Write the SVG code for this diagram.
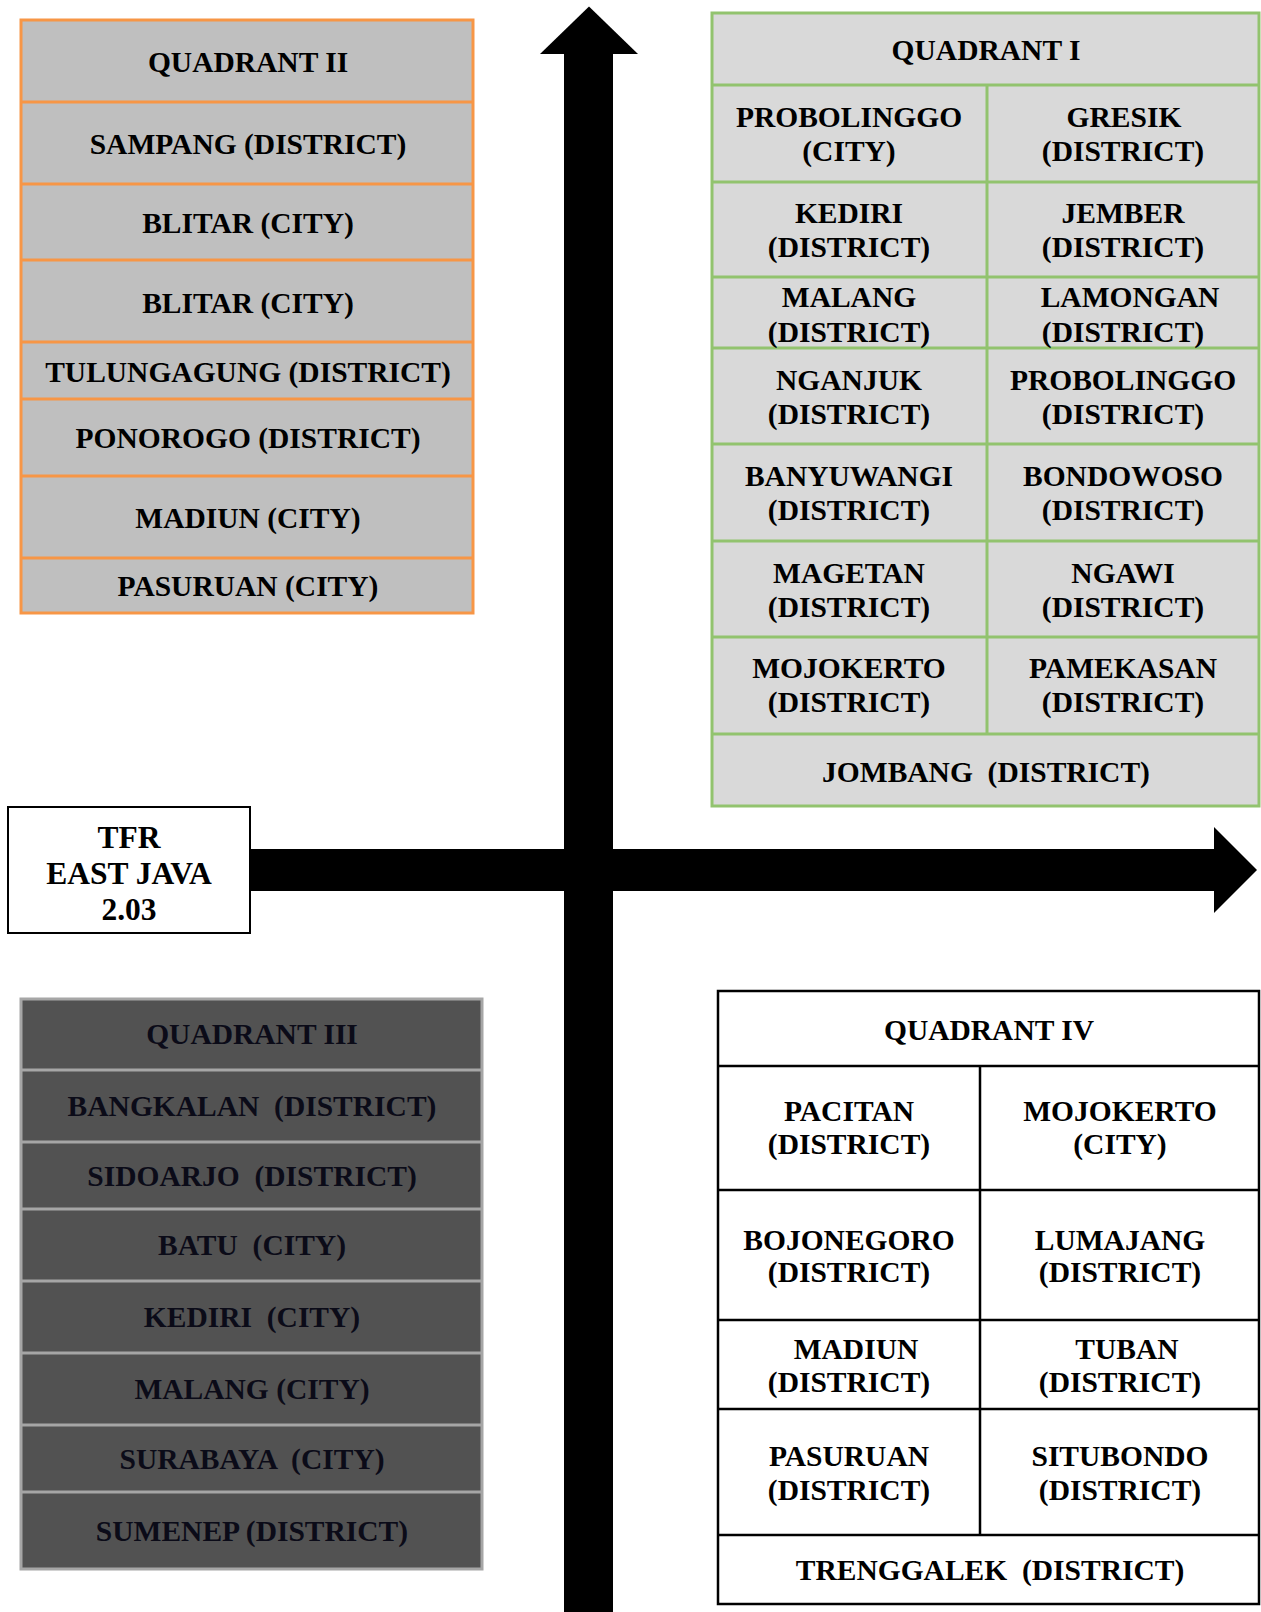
<svg xmlns="http://www.w3.org/2000/svg" width="1261" height="1612" viewBox="0 0 1261 1612">
<style>
text{font-family:"Liberation Serif","Times New Roman",serif;font-weight:bold;font-size:29.5px;text-anchor:middle;fill:#000}
.q3 text{fill:#0b0b18}
.tfr text{font-size:31.5px}
.sepO{stroke:#F79646;stroke-width:3}
.sepG{stroke:#92C36E;stroke-width:3}
.sepS{stroke:#A6A6A6;stroke-width:3}
.sepK{stroke:#000;stroke-width:2.5}
</style>
<rect width="1261" height="1612" fill="#fff"/>
<g id="connectors">
<rect x="564" y="52" width="49" height="1560" fill="#000"/>
<polygon points="540,54 638,54 589,6.5" fill="#000"/>
<rect x="250" y="849" width="966" height="42" fill="#000"/>
<polygon points="1214,827 1214,913 1257,870" fill="#000"/>
</g>
<g id="quadrant2">
<rect x="21" y="20" width="452" height="593" fill="#BFBFBF" stroke="#F79646" stroke-width="3"/>
<g class="sepO">
<line x1="21" y1="102" x2="473" y2="102"/>
<line x1="21" y1="184" x2="473" y2="184"/>
<line x1="21" y1="260" x2="473" y2="260"/>
<line x1="21" y1="342" x2="473" y2="342"/>
<line x1="21" y1="399" x2="473" y2="399"/>
<line x1="21" y1="476" x2="473" y2="476"/>
<line x1="21" y1="558" x2="473" y2="558"/>
</g>
<text x="248" y="72">QUADRANT II</text>
<text x="248" y="154">SAMPANG (DISTRICT)</text>
<text x="248" y="233">BLITAR (CITY)</text>
<text x="248" y="313">BLITAR (CITY)</text>
<text x="248" y="382">TULUNGAGUNG (DISTRICT)</text>
<text x="248" y="448">PONOROGO (DISTRICT)</text>
<text x="248" y="528">MADIUN (CITY)</text>
<text x="248" y="596">PASURUAN (CITY)</text>
</g>
<g id="quadrant1">
<rect x="712" y="13" width="547" height="793" fill="#D9D9D9" stroke="#92C36E" stroke-width="3"/>
<g class="sepG">
<line x1="712" y1="85" x2="1259" y2="85"/>
<line x1="712" y1="182" x2="1259" y2="182"/>
<line x1="712" y1="277" x2="1259" y2="277"/>
<line x1="712" y1="348" x2="1259" y2="348"/>
<line x1="712" y1="444" x2="1259" y2="444"/>
<line x1="712" y1="541" x2="1259" y2="541"/>
<line x1="712" y1="637" x2="1259" y2="637"/>
<line x1="712" y1="734" x2="1259" y2="734"/>
<line x1="987" y1="85" x2="987" y2="734"/>
</g>
<text x="986" y="60">QUADRANT I</text>
<text x="849" y="127">PROBOLINGGO</text><text x="849" y="161">(CITY)</text>
<text x="1124" y="127">GRESIK</text><text x="1123" y="161">(DISTRICT)</text>
<text x="849" y="223">KEDIRI</text><text x="849" y="257">(DISTRICT)</text>
<text x="1123" y="223">JEMBER</text><text x="1123" y="257">(DISTRICT)</text>
<text x="849" y="307">MALANG</text><text x="849" y="342">(DISTRICT)</text>
<text x="1130" y="307">LAMONGAN</text><text x="1123" y="342">(DISTRICT)</text>
<text x="849" y="390">NGANJUK</text><text x="849" y="424">(DISTRICT)</text>
<text x="1123" y="390">PROBOLINGGO</text><text x="1123" y="424">(DISTRICT)</text>
<text x="849" y="486">BANYUWANGI</text><text x="849" y="520">(DISTRICT)</text>
<text x="1123" y="486">BONDOWOSO</text><text x="1123" y="520">(DISTRICT)</text>
<text x="849" y="583">MAGETAN</text><text x="849" y="617">(DISTRICT)</text>
<text x="1123" y="583">NGAWI</text><text x="1123" y="617">(DISTRICT)</text>
<text x="849" y="678">MOJOKERTO</text><text x="849" y="712">(DISTRICT)</text>
<text x="1123" y="678">PAMEKASAN</text><text x="1123" y="712">(DISTRICT)</text>
<text x="986" y="782" xml:space="preserve">JOMBANG  (DISTRICT)</text>
</g>
<g id="tfr" class="tfr">
<rect x="8" y="807" width="242" height="126" fill="#fff" stroke="#000" stroke-width="2"/>
<text x="129" y="848">TFR</text>
<text x="129" y="884">EAST JAVA</text>
<text x="129" y="920">2.03</text>
</g>
<g id="quadrant3" class="q3">
<rect x="21" y="999" width="461" height="570" fill="#525252" stroke="#A6A6A6" stroke-width="3"/>
<g class="sepS">
<line x1="21" y1="1070" x2="482" y2="1070"/>
<line x1="21" y1="1142" x2="482" y2="1142"/>
<line x1="21" y1="1209" x2="482" y2="1209"/>
<line x1="21" y1="1281" x2="482" y2="1281"/>
<line x1="21" y1="1353" x2="482" y2="1353"/>
<line x1="21" y1="1425" x2="482" y2="1425"/>
<line x1="21" y1="1492" x2="482" y2="1492"/>
</g>
<text x="252" y="1044">QUADRANT III</text>
<text x="252" y="1116" xml:space="preserve">BANGKALAN  (DISTRICT)</text>
<text x="252" y="1186" xml:space="preserve">SIDOARJO  (DISTRICT)</text>
<text x="252" y="1255" xml:space="preserve">BATU  (CITY)</text>
<text x="252" y="1327" xml:space="preserve">KEDIRI  (CITY)</text>
<text x="252" y="1399">MALANG (CITY)</text>
<text x="252" y="1469" xml:space="preserve">SURABAYA  (CITY)</text>
<text x="252" y="1541">SUMENEP (DISTRICT)</text>
</g>
<g id="quadrant4">
<rect x="718" y="991" width="541" height="613" fill="#fff" stroke="#000" stroke-width="2.5"/>
<g class="sepK">
<line x1="718" y1="1066" x2="1259" y2="1066"/>
<line x1="718" y1="1190" x2="1259" y2="1190"/>
<line x1="718" y1="1320" x2="1259" y2="1320"/>
<line x1="718" y1="1409" x2="1259" y2="1409"/>
<line x1="718" y1="1535" x2="1259" y2="1535"/>
<line x1="980" y1="1066" x2="980" y2="1535"/>
</g>
<text x="989" y="1040">QUADRANT IV</text>
<text x="849" y="1121">PACITAN</text><text x="849" y="1154">(DISTRICT)</text>
<text x="1120" y="1121">MOJOKERTO</text><text x="1120" y="1154">(CITY)</text>
<text x="849" y="1250">BOJONEGORO</text><text x="849" y="1282">(DISTRICT)</text>
<text x="1120" y="1250">LUMAJANG</text><text x="1120" y="1282">(DISTRICT)</text>
<text x="856" y="1359">MADIUN</text><text x="849" y="1392">(DISTRICT)</text>
<text x="1127" y="1359">TUBAN</text><text x="1120" y="1392">(DISTRICT)</text>
<text x="849" y="1466">PASURUAN</text><text x="849" y="1500">(DISTRICT)</text>
<text x="1120" y="1466">SITUBONDO</text><text x="1120" y="1500">(DISTRICT)</text>
<text x="990" y="1580" xml:space="preserve">TRENGGALEK  (DISTRICT)</text>
</g>
</svg>
